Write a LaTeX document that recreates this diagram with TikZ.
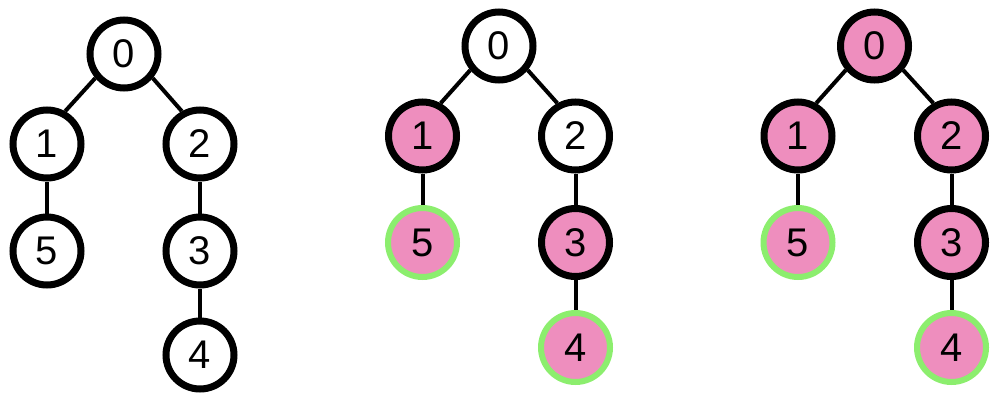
\documentclass[tikz,border=0pt]{standalone}
\usepackage{fontspec}
\setmainfont{Liberation Sans}
\definecolor{pinkfill}{HTML}{EE8EBE}
\definecolor{greenring}{HTML}{8CEE6E}
\begin{document}
\begin{tikzpicture}[x=1pt,y=-1pt,
  vnode/.style={circle, minimum size=68pt, inner sep=0pt, line width=7pt, draw=black, fill=white, font=\fontsize{40}{40}\selectfont},
  donenode/.style={vnode, fill=pinkfill},
  leafnode/.style={vnode, fill=pinkfill, draw=greenring, line width=6pt, minimum size=69pt},
  edgeline/.style={line width=4pt, draw=black}]
\useasboundingbox (0,0) rectangle (1002,402);
% tree 1
\node[vnode] (a0) at (124,54) {0};
\node[vnode] (a1) at (47,144) {1};
\node[vnode] (a2) at (200,144) {2};
\node[vnode] (a5) at (47,251) {5};
\node[vnode] (a3) at (200,251) {3};
\node[vnode] (a4) at (200,355) {4};
\draw[edgeline] (a0.220) -- (a1.61);
\draw[edgeline] (a0.320) -- (a2.119);
\draw[edgeline] (a1) -- (a5);
\draw[edgeline] (a2) -- (a3);
\draw[edgeline] (a3) -- (a4);
% tree 2
\node[vnode] (b0) at (499,46) {0};
\node[donenode] (b1) at (422.5,136) {1};
\node[vnode] (b2) at (575.5,136) {2};
\node[leafnode] (b5) at (422.5,242.5) {5};
\node[donenode] (b3) at (575.5,242.5) {3};
\node[leafnode] (b4) at (575.5,347.5) {4};
\draw[edgeline] (b0.220) -- (b1.61);
\draw[edgeline] (b0.320) -- (b2.119);
\draw[edgeline] (b1) -- (b5);
\draw[edgeline] (b2) -- (b3);
\draw[edgeline] (b3) -- (b4);
% tree 3
\node[donenode] (c0) at (874.5,46) {0};
\node[donenode] (c1) at (798,136) {1};
\node[donenode] (c2) at (951.5,136) {2};
\node[leafnode] (c5) at (798,242.5) {5};
\node[donenode] (c3) at (951.5,242.5) {3};
\node[leafnode] (c4) at (951.5,347.5) {4};
\draw[edgeline] (c0.220) -- (c1.61);
\draw[edgeline] (c0.320) -- (c2.119);
\draw[edgeline] (c1) -- (c5);
\draw[edgeline] (c2) -- (c3);
\draw[edgeline] (c3) -- (c4);
\end{tikzpicture}
\end{document}
